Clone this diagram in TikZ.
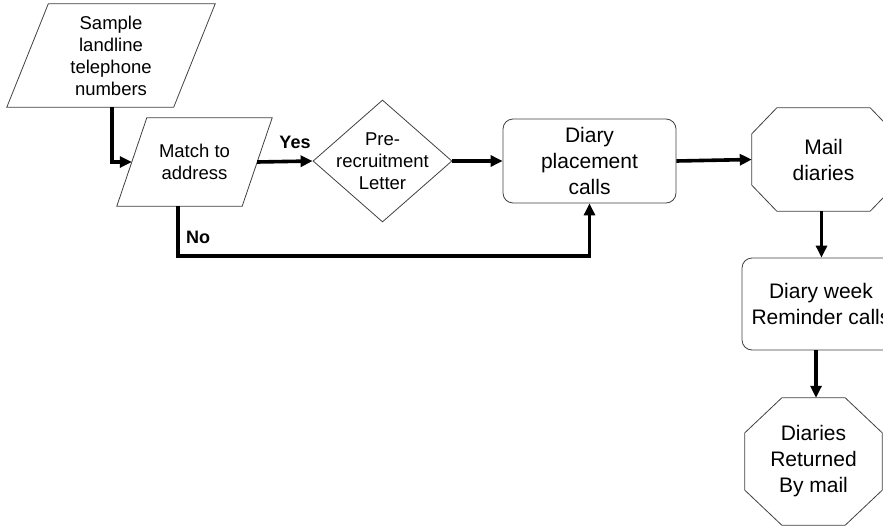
\documentclass[tikz,border=0pt]{standalone}
\usepackage{fontspec}
\setmainfont{Liberation Sans}
\usetikzlibrary{arrows.meta,shapes.geometric}
\begin{document}
\begin{tikzpicture}[x=1pt,y=-1pt,
  shapeline/.style={draw=black!75,line width=0.8pt},
  smalltxt/.style={align=center,inner sep=0pt,font=\fontsize{18.5pt}{22pt}\selectfont},
  bigtxt/.style={align=center,inner sep=0pt,font=\fontsize{21pt}{26pt}\selectfont},
  lbl/.style={inner sep=0pt,font=\fontsize{18pt}{22pt}\selectfont\bfseries},
  conn/.style={line width=3.6pt,-{Triangle[length=12pt,width=11pt]}},
  roundbox/.style={shapeline,rounded corners=10pt,bigtxt}]
\useasboundingbox (0,0) rectangle (883,527);
\clip (0,0) rectangle (883,527);

% Sample parallelogram
\node[smalltxt,minimum width=208pt,minimum height=103pt] (sample) at (111,55.5)
  {Sample\\landline\\telephone\\numbers};
\draw[shapeline] ([xshift=41.5pt]sample.north west) -- (sample.north east)
  -- ([xshift=-41.5pt]sample.south east) -- (sample.south west) -- cycle;

% Match parallelogram
\node[smalltxt,minimum width=155pt,minimum height=88pt] (match) at (194.5,162)
  {Match to\\address};
\draw[shapeline] ([xshift=30pt]match.north west) -- (match.north east)
  -- ([xshift=-30pt]match.south east) -- (match.south west) -- cycle;

% Diamond
\node[diamond,shapeline,minimum width=139pt,minimum height=122pt,inner sep=0pt] (pre) at (382.5,161) {};
\node[smalltxt] (pretxt) at (pre.center) {Pre-\\recruitment\\Letter};

% Diary placement calls
\node[roundbox,minimum width=173pt,minimum height=84pt] (placement) at (589.5,161)
  {Diary\\placement\\calls};

% Mail diaries octagon
\node[bigtxt,minimum width=143pt,minimum height=103pt] (mail) at (823.5,159.5)
  {Mail\\diaries};
\draw[shapeline] ([xshift=25pt]mail.north west) -- ([xshift=-25pt]mail.north east)
  -- ([yshift=-26pt]mail.north east) -- ([yshift=26pt]mail.south east)
  -- ([xshift=-25pt]mail.south east) -- ([xshift=25pt]mail.south west)
  -- ([yshift=26pt]mail.south west) -- ([yshift=-26pt]mail.north west) -- cycle;

% Reminder calls
\node[roundbox,minimum width=158pt,minimum height=92pt] (reminder) at (821,304)
  {Diary week\\Reminder calls};

% Diaries returned octagon
\node[bigtxt,minimum width=137pt,minimum height=127pt] (returned) at (813.5,461.5)
  {Diaries\\Returned\\By mail};
\draw[shapeline] ([xshift=37pt]returned.north west) -- ([xshift=-37pt]returned.north east)
  -- ([yshift=-35pt]returned.north east) -- ([yshift=35pt]returned.south east)
  -- ([xshift=-37pt]returned.south east) -- ([xshift=37pt]returned.south west)
  -- ([yshift=35pt]returned.south west) -- ([yshift=-35pt]returned.north west) -- cycle;

% Connectors
\coordinate (matchL) at ([xshift=15pt]match.west);
\coordinate (matchR) at ([xshift=-15pt]match.east);
\draw[conn] ([xshift=1pt]sample.south) |- (matchL);
\draw[conn] (matchR) -- (pre.west);
\node[lbl] (yes) at (295,142) {Yes};
\coordinate (nobend) at (589.5,256);
\draw[conn] ([xshift=-16.5pt]match.south) |- (nobend) -- (placement.south);
\node[lbl] (no) at (198,237) {No};
\draw[conn] (pre.east) -- (placement.west);
\draw[conn] (placement.east) -- (mail.west);
\draw[conn] ([xshift=-2pt]mail.south) -- ([xshift=-2pt]mail.south |- reminder.north);
\coordinate (remS) at ([xshift=-5pt]reminder.south);
\draw[conn] (remS) -- (remS |- returned.north);
\end{tikzpicture}
\end{document}
